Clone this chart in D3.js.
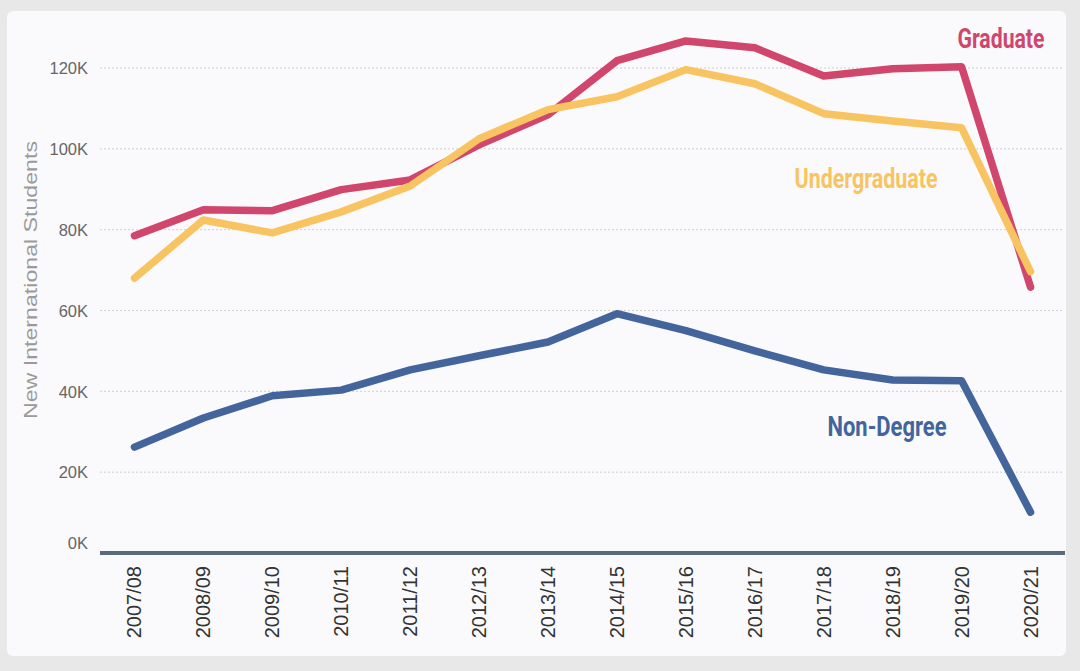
<!DOCTYPE html>
<html>
<head>
<meta charset="utf-8">
<script src="https://cdn.jsdelivr.net/npm/d3@7"></script>
<style>
  body { margin: 0; background: #e8e8e8; }
  svg { display: block; }
</style>
</head>
<body>
<svg id="chart" width="1080" height="671"></svg>
<script>
// data
var years = ["2007/08", "2008/09", "2009/10", "2010/11", "2011/12", "2012/13", "2013/14",
             "2014/15", "2015/16", "2016/17", "2017/18", "2018/19", "2019/20", "2020/21"]
var graduate = [78500, 84900, 84700, 89900, 92300, 101000, 108400,
                121800, 126700, 125000, 118000, 119800, 120300, 65800]
var undergraduate = [68000, 82400, 79200, 84400, 90800, 102500, 109700,
                     112900, 119600, 116100, 108700, 106900, 105200, 69600]
var nonDegree = [26200, 33400, 38900, 40300, 45300, 48800, 52200,
                 59200, 55000, 50000, 45300, 42800, 42600, 10100]
var yTicks = [0, 20000, 40000, 60000, 80000, 100000, 120000]

var series = [
    { name: "Graduate", values: graduate, color: "#d0466c", lx: 1001, ly: 48, len: 87 },
    { name: "Undergraduate", values: undergraduate, color: "#f8c462", lx: 866, ly: 188, len: 143 },
    { name: "Non-Degree", values: nonDegree, color: "#44659b", lx: 887, ly: 436, len: 119 }
]

var svg = d3.select("#chart")

// card
svg.append("rect").attr("x", 7).attr("y", 11).attr("width", 1059).attr("height", 645)
    .attr("rx", 6).attr("fill", "#fafafc")

var x = d3.scalePoint().domain(years).range([100, 1065]).padding(0.5)
var y = d3.scaleLinear().domain([0, 120000]).range([553, 68])

// grid
svg.append("g").selectAll("line").data(yTicks.filter(function (d) { return d > 0 }))
    .join("line")
    .attr("x1", 100).attr("x2", 1063)
    .attr("y1", function (d) { return y(d) }).attr("y2", function (d) { return y(d) })
    .attr("stroke", "#cfcfd4").attr("stroke-width", 1).attr("stroke-dasharray", "2,2")

// y axis labels
var yAxis = svg.append("g").attr("transform", "translate(88,0)")
    .call(d3.axisLeft(y).tickValues(yTicks).tickSize(0).tickPadding(0)
        .tickFormat(function (d) { return (d / 1000) + "K" }))
yAxis.select(".domain").remove()
yAxis.selectAll("text")
    .attr("fill", "#666").attr("font-family", "Liberation Sans, Arial, sans-serif").attr("font-size", 16.5)
    .attr("dy", function (d) { return d == 0 ? "-0.3em" : "0.35em" })

svg.append("text")
    .attr("transform", "translate(37,280) rotate(-90)")
    .attr("text-anchor", "middle")
    .attr("fill", "#9a9a9a").attr("font-family", "Liberation Sans, Arial, sans-serif").attr("font-size", 19)
    .attr("textLength", 278).attr("lengthAdjust", "spacingAndGlyphs")
    .text("New International Students")

// x axis
svg.append("line").attr("x1", 100).attr("x2", 1065).attr("y1", 553).attr("y2", 553)
    .attr("stroke", "#5a6a7d").attr("stroke-width", 4)

svg.append("g").selectAll("text").data(years).join("text")
    .attr("transform", function (d) { return "translate(" + (x(d) + 7) + ",566) rotate(-90)" })
    .attr("text-anchor", "end")
    .attr("fill", "#333").attr("font-family", "Liberation Sans, Arial, sans-serif").attr("font-size", 20)
    .text(function (d) { return d })

// lines
var line = d3.line()
    .x(function (d, i) { return x(years[i]) })
    .y(function (d) { return y(d) })

svg.append("g").selectAll("path").data(series).join("path")
    .attr("d", function (s) { return line(s.values) })
    .attr("fill", "none")
    .attr("stroke", function (s) { return s.color })
    .attr("stroke-width", 7.5)
    .attr("stroke-linecap", "round")
    .attr("stroke-linejoin", "round")

// direct labels
svg.append("g").selectAll("text").data(series).join("text")
    .attr("x", function (s) { return s.lx }).attr("y", function (s) { return s.ly })
    .attr("text-anchor", "middle")
    .attr("fill", function (s) { return s.color })
    .attr("font-family", "Roboto, sans-serif").attr("font-weight", "bold").attr("font-size", 27)
    .attr("textLength", function (s) { return s.len }).attr("lengthAdjust", "spacingAndGlyphs")
    .text(function (s) { return s.name })
</script>
</body>
</html>
